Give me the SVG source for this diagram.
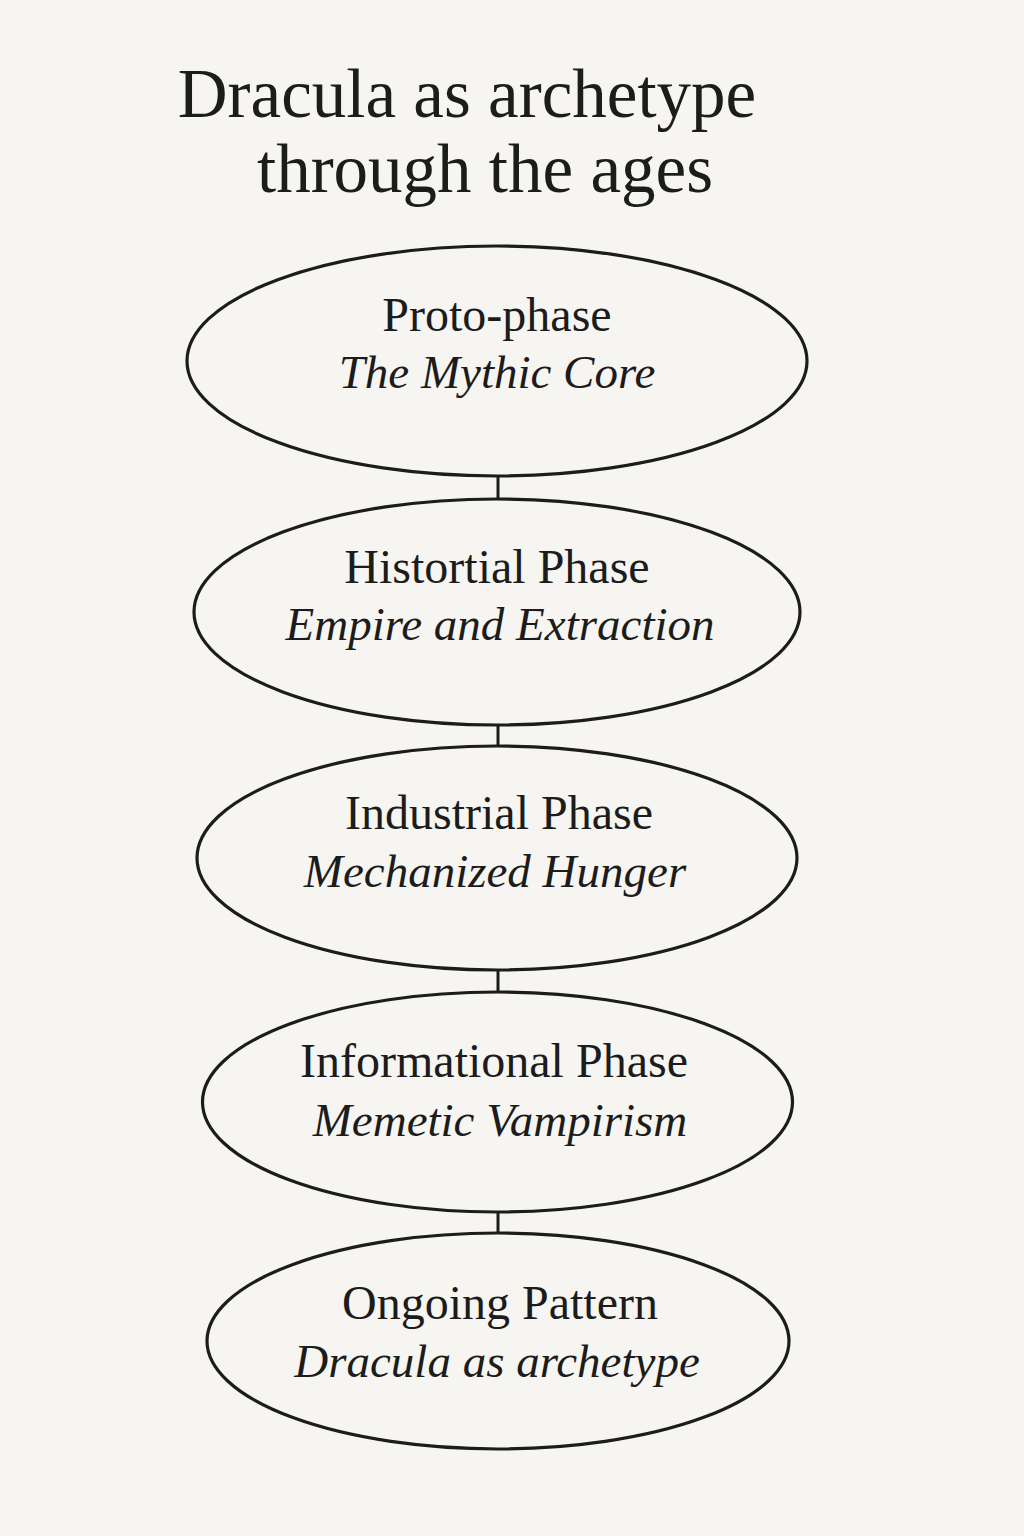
<svg xmlns="http://www.w3.org/2000/svg" width="1024" height="1536" viewBox="0 0 1024 1536">
  <style>
    .node ellipse { fill: none; stroke: #1c1c1c; stroke-width: 3.2; }
    .t1 { font-family: "Liberation Serif", "DejaVu Serif", serif; font-size: 48px; fill: #1c1c1c; text-anchor: middle; }
    .t2 { font-family: "Liberation Serif", "DejaVu Serif", serif; font-size: 47px; font-style: italic; fill: #1c1c1c; text-anchor: middle; }
    .title { font-family: "Liberation Serif", "DejaVu Serif", serif; font-size: 69px; fill: #1c1c1c; text-anchor: middle; }
    #connectors line { stroke: #1c1c1c; stroke-width: 3; }
  </style>
  <rect x="0" y="0" width="1024" height="1536" fill="#f6f5f1"/>
  <g id="title">
    <text class="title" x="467" y="117">Dracula as archetype</text>
    <text class="title" x="485" y="192">through the ages</text>
  </g>
  <g id="connectors">
    <line x1="498" y1="476" x2="498" y2="500"/>
    <line x1="498" y1="724" x2="498" y2="747"/>
    <line x1="498" y1="969" x2="498" y2="992"/>
    <line x1="498" y1="1211" x2="498" y2="1234"/>
  </g>
  <g id="node-proto" class="node">
    <ellipse cx="497" cy="361" rx="310" ry="115"/>
    <text class="t1" x="497" y="331">Proto-phase</text>
    <text class="t2" x="497" y="388">The Mythic Core</text>
  </g>
  <g id="node-historical" class="node">
    <ellipse cx="497" cy="612" rx="303" ry="113"/>
    <text class="t1" x="497" y="583">Histortial Phase</text>
    <text class="t2" x="500" y="640">Empire and Extraction</text>
  </g>
  <g id="node-industrial" class="node">
    <ellipse cx="497" cy="858" rx="300" ry="112"/>
    <text class="t1" x="499" y="829">Industrial Phase</text>
    <text class="t2" x="495" y="887">Mechanized Hunger</text>
  </g>
  <g id="node-informational" class="node">
    <ellipse cx="497.5" cy="1102" rx="295" ry="110"/>
    <text class="t1" x="494" y="1077">Informational Phase</text>
    <text class="t2" x="500" y="1136">Memetic Vampirism</text>
  </g>
  <g id="node-ongoing" class="node">
    <ellipse cx="498" cy="1341" rx="291" ry="108"/>
    <text class="t1" x="500" y="1319">Ongoing Pattern</text>
    <text class="t2" x="497" y="1377">Dracula as archetype</text>
  </g>
</svg>
